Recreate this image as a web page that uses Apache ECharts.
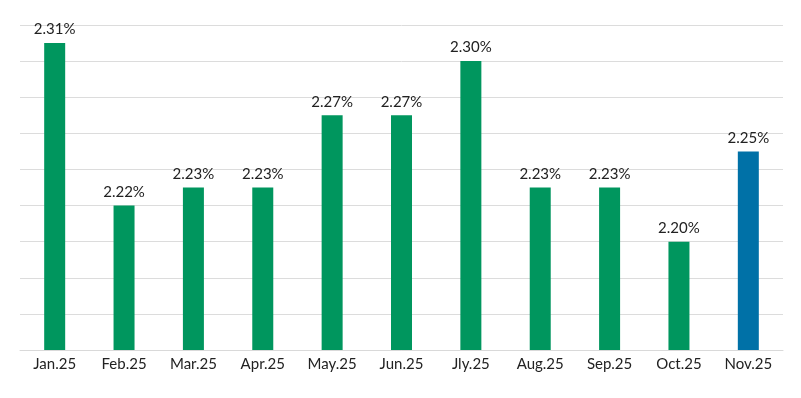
<!DOCTYPE html>
<html>
<head>
<meta charset="utf-8">
<script src="https://cdn.jsdelivr.net/npm/echarts@6/dist/echarts.min.js"></script>
<style>
  html, body { margin: 0; padding: 0; background: #fff; }
  #chart { width: 801px; height: 398px; }
</style>
</head>
<body>
<div id="chart"></div>
<script>
// 月份
const months = ['Jan.25', 'Feb.25', 'Mar.25', 'Apr.25', 'May.25', 'Jun.25', 'Jly.25', 'Aug.25', 'Sep.25', 'Oct.25', 'Nov.25']
// 每月数值（%）
const rates = [2.31, 2.22, 2.23, 2.23, 2.27, 2.27, 2.30, 2.23, 2.23, 2.20, 2.25]
// 最后一根柱子用蓝色高亮
const highlightIndex = 10

const green = '#00965e'
const blue = '#0071a7'

const chart = echarts.init(document.getElementById('chart'))
chart.setOption({
  animation: false,
  grid: {
    top: 25,
    left: 20,
    right: 18,
    bottom: 48
  },
  xAxis: {
    type: 'category',
    data: months,
    axisLine: { lineStyle: { color: '#d9d9d9', width: 1 } },
    axisTick: { show: false },
    axisLabel: {
      color: '#222',
      fontSize: 15,
      fontFamily: 'Lato',
      margin: 7
    }
  },
  yAxis: {
    type: 'value',
    min: 2.14,
    max: 2.32,
    interval: 0.02,
    axisLabel: { show: false },
    axisLine: { show: false },
    axisTick: { show: false },
    splitLine: { lineStyle: { color: '#dcdcdc', width: 1 } }
  },
  series: [
    {
      type: 'bar',
      barWidth: 21,
      data: rates.map((v, i) => ({
        value: v,
        itemStyle: { color: i === highlightIndex ? blue : green }
      })),
      label: {
        show: true,
        position: 'top',
        distance: 6,
        color: '#222',
        fontSize: 15,
        fontFamily: 'Lato',
        formatter: p => p.value.toFixed(2) + '%'
      }
    }
  ]
})
</script>
</body>
</html>
